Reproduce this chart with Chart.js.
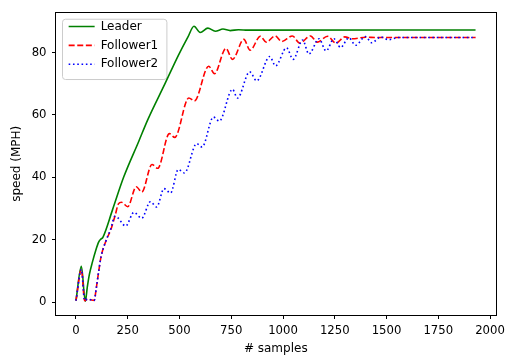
<!DOCTYPE html>
<html><head><meta charset="utf-8">
<script src="https://cdn.jsdelivr.net/npm/chart.js@4.4.1/dist/chart.umd.min.js"></script>
<style>html,body{margin:0;padding:0;background:#fff;}canvas{display:block}</style>
</head><body>
<canvas id="c" width="510" height="358"></canvas>
<script>
// ---- data ----
const seriesNames = ['Leader', 'Follower1', 'Follower2'];
const leaderX = [0, 26, 45, 55, 65, 80, 95, 110, 120, 130, 176, 230, 303, 347, 430, 494, 541, 570, 600, 637, 673, 710, 745, 785, 830, 1930];
const leaderY = [0.5, 11.5, 0.3, 5, 9, 13, 16.5, 19.3, 20.2, 20.8, 29.5, 40, 51.5, 58.5, 70, 79, 85, 88.4, 86.4, 87.8, 86.8, 87.5, 87.0, 87.3, 87.15, 87.2];
const follower1X = [0, 26, 42, 55, 70, 88, 97, 110, 121, 145, 168, 190, 205, 220, 250, 291, 318, 367, 395, 451, 477, 545, 572, 641, 669, 724, 756, 811, 841, 891, 919, 962, 994, 1045, 1081, 1133, 1165, 1215, 1256, 1298, 1335, 1400, 1450, 1930];
const follower1Y = [0.5, 10.5, 0.5, 1, 0.8, 0.6, 4, 10, 14.5, 19.7, 23.2, 28, 31.5, 32, 30.6, 37, 35.3, 44.1, 42.9, 54, 52.8, 65.4, 64.5, 75.6, 73.2, 81.3, 77.8, 84.2, 80.7, 85.2, 83.3, 85.3, 83.5, 85.3, 83.0, 85.3, 83.3, 85.2, 83.0, 85.0, 84.4, 84.9, 84.8, 84.8];
const follower2X = [0, 26, 42, 55, 70, 88, 97, 110, 121, 145, 168, 188, 200, 240, 280, 318, 359, 390, 425, 457, 494, 524, 583, 609, 664, 692, 756, 780, 839, 873, 936, 964, 1017, 1049, 1095, 1125, 1174, 1208, 1246, 1278, 1318, 1351, 1398, 1429, 1472, 1510, 1556, 1930];
const follower2Y = [0.5, 10.5, 0.5, 1, 0.8, 0.6, 4, 10, 14.5, 19.7, 23.5, 27.5, 27.2, 24.4, 28.8, 26.9, 32.2, 30.5, 36.4, 35.0, 42.5, 41.4, 50.8, 49.7, 59.3, 58.0, 68.2, 65.4, 73.8, 70.9, 78.7, 75.7, 81.5, 77.8, 84.0, 79.5, 84.4, 80.5, 84.4, 81.6, 84.7, 82.3, 85.1, 83.1, 85.0, 84.1, 84.8, 84.8];
const xTicks = [0, 250, 500, 750, 1000, 1250, 1500, 1750, 2000];
const yTicks = [0, 20, 40, 60, 80];
const xLabel = '# samples';
const yLabel = 'speed (MPH)';

const FAM = '"DejaVu Sans", sans-serif';
const toPts = (xs, ys) => xs.map((x, i) => ({x, y: ys[i]}));

const framePlugin = {
  id: 'frame',
  afterLayout(chart) {
    const a = chart.chartArea, lg = chart.legend;
    if (lg) { lg.left = a.left + 5.8; lg.top = a.top + 1.2; }
  },
  beforeDraw(chart) {
    const a = chart.chartArea, ctx = chart.ctx;
    const x = a.left + 6.5, y = a.top + 6.7, w = 104.4, h = 60.3, r = 3;
    ctx.save();
    ctx.beginPath();
    ctx.roundRect(x, y, w, h, r);
    ctx.fillStyle = 'rgba(255,255,255,0.8)';
    ctx.fill();
    ctx.strokeStyle = '#cccccc';
    ctx.lineWidth = 1;
    ctx.stroke();
    ctx.restore();
  },
  afterDatasetsDraw(chart) {
    const a = chart.chartArea, ctx = chart.ctx;
    ctx.save();
    ctx.strokeStyle = '#000';
    ctx.lineWidth = 1;
    ctx.strokeRect(Math.round(a.left) - 0.5, Math.round(a.top) - 0.5, Math.round(a.right - a.left) + 1, Math.round(a.bottom - a.top) + 1);
    ctx.restore();
  }
};

const common = {borderWidth: 1.6, pointRadius: 0, pointHoverRadius: 0, cubicInterpolationMode: 'monotone', borderCapStyle: 'butt', borderJoinStyle: 'round', fill: false};

new Chart(document.getElementById('c'), {
  type: 'line',
  data: {
    datasets: [
      {...common, label: seriesNames[0], data: toPts(leaderX, leaderY), borderColor: '#008000', backgroundColor: '#008000', order: 3},
      {...common, label: seriesNames[1], data: toPts(follower1X, follower1Y), borderColor: '#ff0000', backgroundColor: '#ff0000', borderDash: [6, 2.6], order: 2},
      {...common, label: seriesNames[2], data: toPts(follower2X, follower2Y), borderColor: '#0000ff', backgroundColor: '#0000ff', borderDash: [1.6, 2.7], order: 1}
    ]
  },
  options: {
    responsive: false, animation: false, devicePixelRatio: 1,
    layout: {padding: {left: 0, top: 8, right: 7, bottom: 0}},
    events: [],
    plugins: {
      tooltip: {enabled: false},
      legend: {
        position: 'chartArea', align: 'start',
        labels: {
          usePointStyle: true, pointStyle: 'line', pointStyleWidth: 26, boxHeight: 12,
          padding: 6.85, color: '#000', font: {family: FAM, size: 12},
          sort: (a, b) => a.datasetIndex - b.datasetIndex,
          generateLabels: chart => {
            const items = Chart.defaults.plugins.legend.labels.generateLabels(chart);
            items.forEach(it => {
              const ds = chart.data.datasets[it.datasetIndex];
              it.lineDash = ds.borderDash || [];
              it.strokeStyle = ds.borderColor;
              it.fillStyle = ds.borderColor;
              it.lineWidth = ds.borderWidth;
              it.lineCap = 'butt';
            });
            return items;
          }
        }
      }
    },
    scales: {
      x: {
        type: 'linear', min: -96.5, max: 2026.5,
        afterBuildTicks: s => { s.ticks = xTicks.map(v => ({value: v})); },
        afterFit: s => { s.height = 43; },
        ticks: {color: '#000', font: {family: FAM, size: 11.7}, padding: 5, maxRotation: 0, autoSkip: false, callback: v => String(v)},
        grid: {display: true, drawOnChartArea: false, drawTicks: true, tickLength: 4, color: '#000', lineWidth: 1},
        border: {display: false},
        title: {display: true, text: xLabel, color: '#000', font: {family: FAM, size: 12}, padding: {top: 0, bottom: 2}}
      },
      y: {
        type: 'linear', min: -4.1, max: 92.8,
        afterBuildTicks: s => { s.ticks = yTicks.map(v => ({value: v})); },
        afterFit: s => { s.width = 56; },
        ticks: {color: '#000', font: {family: FAM, size: 11.7}, padding: 5.5, autoSkip: false, callback: v => String(v)},
        grid: {display: true, drawOnChartArea: false, drawTicks: true, tickLength: 4, color: '#000', lineWidth: 1},
        border: {display: false},
        title: {display: true, text: yLabel, color: '#000', font: {family: FAM, size: 12}, padding: {top: 9.5, bottom: 0}}
      }
    }
  },
  plugins: [framePlugin]
});
</script>
</body></html>
